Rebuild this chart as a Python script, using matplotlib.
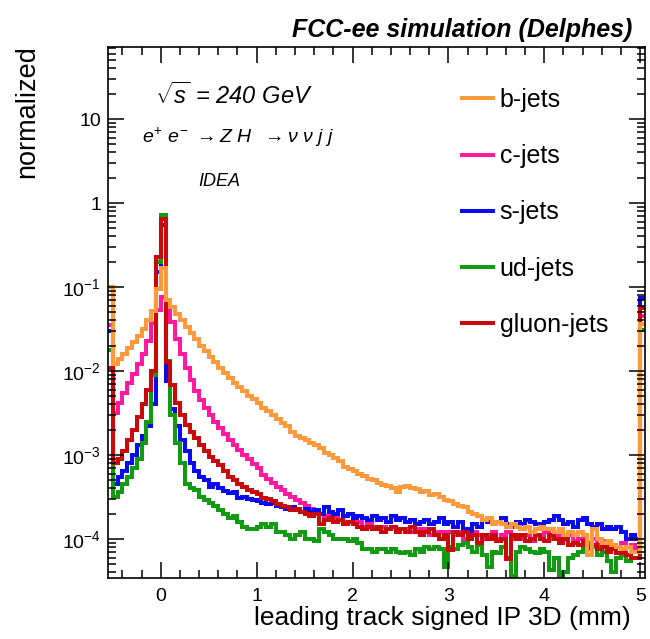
import numpy as np
import matplotlib
matplotlib.use("Agg")
import matplotlib.pyplot as plt
from matplotlib.lines import Line2D
from matplotlib.ticker import LogLocator, MultipleLocator, NullFormatter

plt.rcParams['font.family'] = ['Liberation Sans', 'DejaVu Sans']
plt.rcParams['mathtext.fontset'] = 'custom'
plt.rcParams['mathtext.rm'] = 'Liberation Sans'
plt.rcParams['mathtext.it'] = 'Liberation Sans:italic'
plt.rcParams['mathtext.bf'] = 'Liberation Sans:bold'

# binning: first bin holds underflow, last bin holds overflow
x_lo, x_hi, n_bins = -0.55, 5.05, 112

labels = ["b-jets", "c-jets", "s-jets", "ud-jets", "gluon-jets"]
colors = ["#FF9A3C", "#FF1AA0", "#0A0AF0", "#129A12", "#C80A0A"]
# order in which the histograms are painted (b-jets ends up on top)
draw_order = [1, 2, 3, 4, 0]

b_jets = [
    0.10,
    0.012, 0.014, 0.016, 0.019, 0.022, 0.026, 0.032, 0.040,
    0.052, 0.095, 0.17, 0.07, 0.058, 0.048, 0.040, 0.033,
    0.028, 0.024, 0.020, 0.0172, 0.0148, 0.0128, 0.011, 0.0095,
    0.0082, 0.0071, 0.0064, 0.0057, 0.0051, 0.0046, 0.0042, 0.0036,
    0.0033, 0.0030, 0.0027, 0.0024, 0.0022, 0.0019, 0.0017, 0.0016,
    0.0015, 0.0014, 0.0013, 0.0012, 0.00105, 0.0010, 0.00093, 0.00085,
    0.00072, 0.00068, 0.00065, 0.00060, 0.00056, 0.00052, 0.00050, 0.00047,
    0.00044, 0.00043, 0.00040, 0.00036, 0.00042, 0.00043, 0.00040, 0.00039,
    0.00036, 0.00037, 0.00033, 0.00034, 0.00032, 0.00029, 0.00028, 0.00026,
    0.00025, 0.00024, 0.00021, 0.00020, 0.00019, 0.00017, 0.00018, 0.00015,
    0.00016, 0.00015, 0.00014, 0.00015, 0.00014, 0.00013, 0.00014, 0.00012,
    0.00013, 0.00014, 0.00013, 0.00013, 0.00012, 0.00013, 0.00011, 0.00012,
    0.00011, 0.00012, 0.00011, 6.5e-5, 0.00013, 0.00010, 9.0e-5, 9.5e-5,
    8.5e-5, 8.0e-5, 7.5e-5, 8.0e-5, 7.0e-5, 7.0e-5, 0.036,
]

c_jets = [
    0.035,
    0.0032, 0.0042, 0.0055, 0.0072, 0.0092, 0.012, 0.016, 0.023,
    0.037, 0.053, 0.075, 0.060, 0.038, 0.024, 0.016, 0.011,
    0.0078, 0.0058, 0.0045, 0.0036, 0.0030, 0.0025, 0.0021, 0.0018,
    0.0015, 0.0013, 0.00115, 0.0010, 0.00090, 0.00078, 0.00070, 0.00058,
    0.00052, 0.00047, 0.00042, 0.00038, 0.00034, 0.00032, 0.00029, 0.00027,
    0.00025, 0.00023, 0.00021, 0.00020, 0.00019, 0.00018, 0.00018, 0.00017,
    0.00016, 0.00016, 0.00015, 0.00016, 0.00014, 0.00015, 0.00014, 0.00013,
    0.00014, 0.00013, 0.00014, 0.00012, 0.00013, 0.00013, 0.00012, 0.00013,
    0.00012, 0.00013, 0.00011, 0.00012, 0.00012, 0.00011, 0.00012, 0.00011,
    0.00012, 0.00010, 0.00011, 0.00012, 0.00011, 0.00010, 0.00011, 0.00012,
    0.00010, 0.00011, 0.00012, 0.00010, 0.00011, 0.00010, 0.00011, 9.5e-5,
    0.00011, 0.00010, 0.00012, 0.00010, 0.00011, 9.5e-5, 0.00010, 0.00011,
    9.5e-5, 0.00010, 0.00011, 9.0e-5, 0.00010, 8.5e-5, 9.5e-5, 9.0e-5,
    8.5e-5, 8.0e-5, 9.0e-5, 8.0e-5, 8.5e-5, 7.5e-5, 0.045,
]

s_jets = [
    0.030,
    0.00045, 0.00055, 0.00065, 0.00080, 0.0010, 0.0013, 0.0017, 0.0022,
    0.0040, 0.15, 0.55, 0.0075, 0.0035, 0.0022, 0.0015, 0.0011,
    0.00080, 0.00065, 0.00055, 0.00050, 0.00042, 0.00045, 0.00040, 0.00037,
    0.00035, 0.00036, 0.00031, 0.00032, 0.00030, 0.00029, 0.00028, 0.00027,
    0.00026, 0.00027, 0.00025, 0.00024, 0.00023, 0.00024, 0.00022, 0.00021,
    0.00023, 0.00021, 0.00022, 0.00020, 0.00024, 0.00021, 0.00020, 0.00022,
    0.00019, 0.00020, 0.00018, 0.00019, 0.00018, 0.00017, 0.00019, 0.00017,
    0.00018, 0.00016, 0.00019, 0.00017, 0.00018, 0.00016, 0.00017, 0.00015,
    0.00016, 0.00017, 0.00015, 0.00016, 0.00018, 0.00015, 0.00016, 0.00014,
    0.00016, 0.00013, 0.00012, 0.00015, 0.00014, 0.00017, 0.00016, 0.00015,
    0.00016, 0.00018, 0.00015, 0.00014, 0.00016, 0.00015, 0.00017, 0.00016,
    0.00015, 0.00014, 0.00016, 0.00017, 0.00019, 0.00017, 0.00015, 0.00016,
    0.00014, 0.00017, 0.00018, 0.00015, 0.00014, 0.00015, 0.00013, 0.00014,
    0.00013, 0.00014, 0.00012, 0.00010, 0.00011, 0.00010, 0.074,
]

ud_jets = [
    0.018,
    0.00032, 0.00036, 0.00045, 0.00055, 0.00070, 0.00090, 0.0014, 0.0025,
    0.0090, 0.20, 0.72, 0.013, 0.0030, 0.0014, 0.00080, 0.00045,
    0.00040, 0.00038, 0.00032, 0.00029, 0.00027, 0.00025, 0.00022, 0.00020,
    0.00018, 0.00019, 0.00016, 0.00014, 0.00013, 0.00013, 0.00014, 0.00015,
    0.00014, 0.00015, 0.00012, 0.00012, 0.00011, 0.00010, 0.00011, 0.00012,
    0.00010, 0.00010, 9.5e-5, 0.00013, 0.00012, 0.00011, 0.00010, 0.00010,
    0.00010, 9.5e-5, 0.00010, 9.0e-5, 7.5e-5, 7.5e-5, 7.0e-5, 7.5e-5,
    7.5e-5, 7.0e-5, 7.5e-5, 7.0e-5, 6.8e-5, 7.0e-5, 6.5e-5, 7.5e-5,
    7.0e-5, 8.0e-5, 7.5e-5, 8.0e-5, 7.5e-5, 4.6e-5, 8.0e-5, 7.5e-5,
    8.5e-5, 9.0e-5, 8.0e-5, 7.0e-5, 8.5e-5, 6.5e-5, 4.6e-5, 7.0e-5,
    6.8e-5, 8.0e-5, 6.0e-5, 3.6e-5, 7.0e-5, 8.0e-5, 7.5e-5, 7.0e-5,
    6.8e-5, 7.5e-5, 7.0e-5, 4.3e-5, 6.0e-5, 3.6e-5, 4.0e-5, 6.0e-5,
    6.5e-5, 7.0e-5, 8.0e-5, 7.5e-5, 8.0e-5, 6.5e-5, 7.0e-5, 5.5e-5,
    4.0e-5, 6.0e-5, 6.5e-5, 5.5e-5, 6.0e-5, 6.0e-5, 0.031,
]

gluon_jets = [
    0.011,
    0.00080, 0.00090, 0.0011, 0.0015, 0.0020, 0.0028, 0.0040, 0.0060,
    0.010, 0.23, 0.65, 0.0127, 0.0068, 0.0042, 0.0030, 0.0023,
    0.0019, 0.0016, 0.0013, 0.0011, 0.00095, 0.00085, 0.00075, 0.00065,
    0.00055, 0.00050, 0.00045, 0.00042, 0.00038, 0.00036, 0.00034, 0.00031,
    0.00030, 0.00028, 0.00026, 0.00025, 0.00024, 0.00022, 0.00023, 0.00021,
    0.00020, 0.00019, 0.00020, 0.00015, 0.00017, 0.00018, 0.00016, 0.00017,
    0.00015, 0.00016, 0.00015, 0.00014, 0.00013, 0.00014, 0.00013, 0.00014,
    0.00012, 0.00013, 0.00014, 0.00012, 0.00013, 0.00012, 0.00014, 0.00012,
    0.00011, 0.00012, 0.00013, 0.00011, 0.00010, 0.00011, 7.4e-5, 0.00012,
    0.00011, 0.00012, 0.00010, 0.00011, 9.0e-5, 0.00011, 0.00010, 0.00011,
    9.5e-5, 0.00010, 5.8e-5, 0.00011, 0.00010, 0.00011, 9.5e-5, 0.00010,
    0.00011, 0.00010, 9.5e-5, 0.00011, 0.00010, 9.0e-5, 0.00010, 8.5e-5,
    9.0e-5, 8.5e-5, 9.5e-5, 8.0e-5, 8.5e-5, 7.5e-5, 8.0e-5, 7.0e-5,
    7.5e-5, 6.8e-5, 7.0e-5, 6.5e-5, 6.0e-5, 6.0e-5, 0.056,
]

y_ticks = [1e-4, 1e-3, 1e-2, 1e-1, 1, 10]
y_tick_labels = [r"$10^{-4}$", r"$10^{-3}$", r"$10^{-2}$", r"$10^{-1}$", "1", "10"]


def plot():
    W, H = 650, 639
    fig = plt.figure(figsize=(W / 100, H / 100), dpi=100)
    ax = fig.add_axes([108 / W, 1 - 578 / H, (645 - 108) / W, (578 - 47) / H])

    edges = np.linspace(x_lo, x_hi, n_bins + 1)
    series = [b_jets, c_jets, s_jets, ud_jets, gluon_jets]
    for k in draw_order:
        ax.stairs(series[k], edges, baseline=None, color=colors[k], lw=2.9)

    ax.set_yscale('log')
    ax.set_xlim(x_lo, x_hi)
    ax.set_ylim(3.43e-5, 72)

    ax.set_xticks([0, 1, 2, 3, 4, 5])
    ax.xaxis.set_minor_locator(MultipleLocator(0.2))
    ax.set_yticks(y_ticks)
    ax.set_yticklabels(y_tick_labels)
    ax.yaxis.set_minor_locator(LogLocator(base=10, subs=np.arange(2, 10)))
    ax.yaxis.set_minor_formatter(NullFormatter())

    ax.tick_params(which='both', direction='in', top=True, right=True,
                   width=1.1, labelsize=14, colors='black')
    ax.tick_params(which='major', length=11.5)
    ax.tick_params(which='minor', length=6)
    ax.tick_params(axis='x', pad=7)
    ax.tick_params(axis='y', pad=5)
    for sp in ax.spines.values():
        sp.set_linewidth(1.2)

    handles = [Line2D([], [], color=c, lw=2.9) for c in colors]
    ax.legend(handles, labels, loc='upper left',
              bbox_to_anchor=(462 / W, 1 - 88 / H), bbox_transform=fig.transFigure,
              frameon=False, fontsize=18, borderpad=0, borderaxespad=0,
              handlelength=1.25, handletextpad=0.25, labelspacing=1.29)

    fig.text(632 / W, 1 - 37 / H, "FCC-ee simulation (Delphes)", ha='right',
             va='baseline', fontsize=18, fontweight='bold', fontstyle='italic')
    ax.text(155 / W, 1 - 96 / H, r"$\sqrt{s}$ = 240 GeV", transform=fig.transFigure,
            ha='left', va='center', fontsize=17, fontstyle='italic')
    ax.text(142 / W, 1 - 137 / H,
            r"$e^{+}\ e^{-}\ \rightarrow Z\ H\ \ \rightarrow \nu\ \nu\ j\ j$",
            transform=fig.transFigure, ha='left', va='center', fontsize=14)
    ax.text(198 / W, 1 - 181 / H, "IDEA", transform=fig.transFigure,
            ha='left', va='center', fontsize=13, fontstyle='italic')

    fig.text(631 / W, 1 - 625 / H, "leading track signed IP 3D (mm)",
             ha='right', va='baseline', fontsize=19)
    fig.text(27 / W, 1 - 45 / H, "normalized", rotation=90,
             ha='center', va='top', fontsize=19.5)

    fig.savefig("out.png", dpi=100)
    plt.close(fig)


def main():
    plot()


if __name__ == "__main__":
    main()
